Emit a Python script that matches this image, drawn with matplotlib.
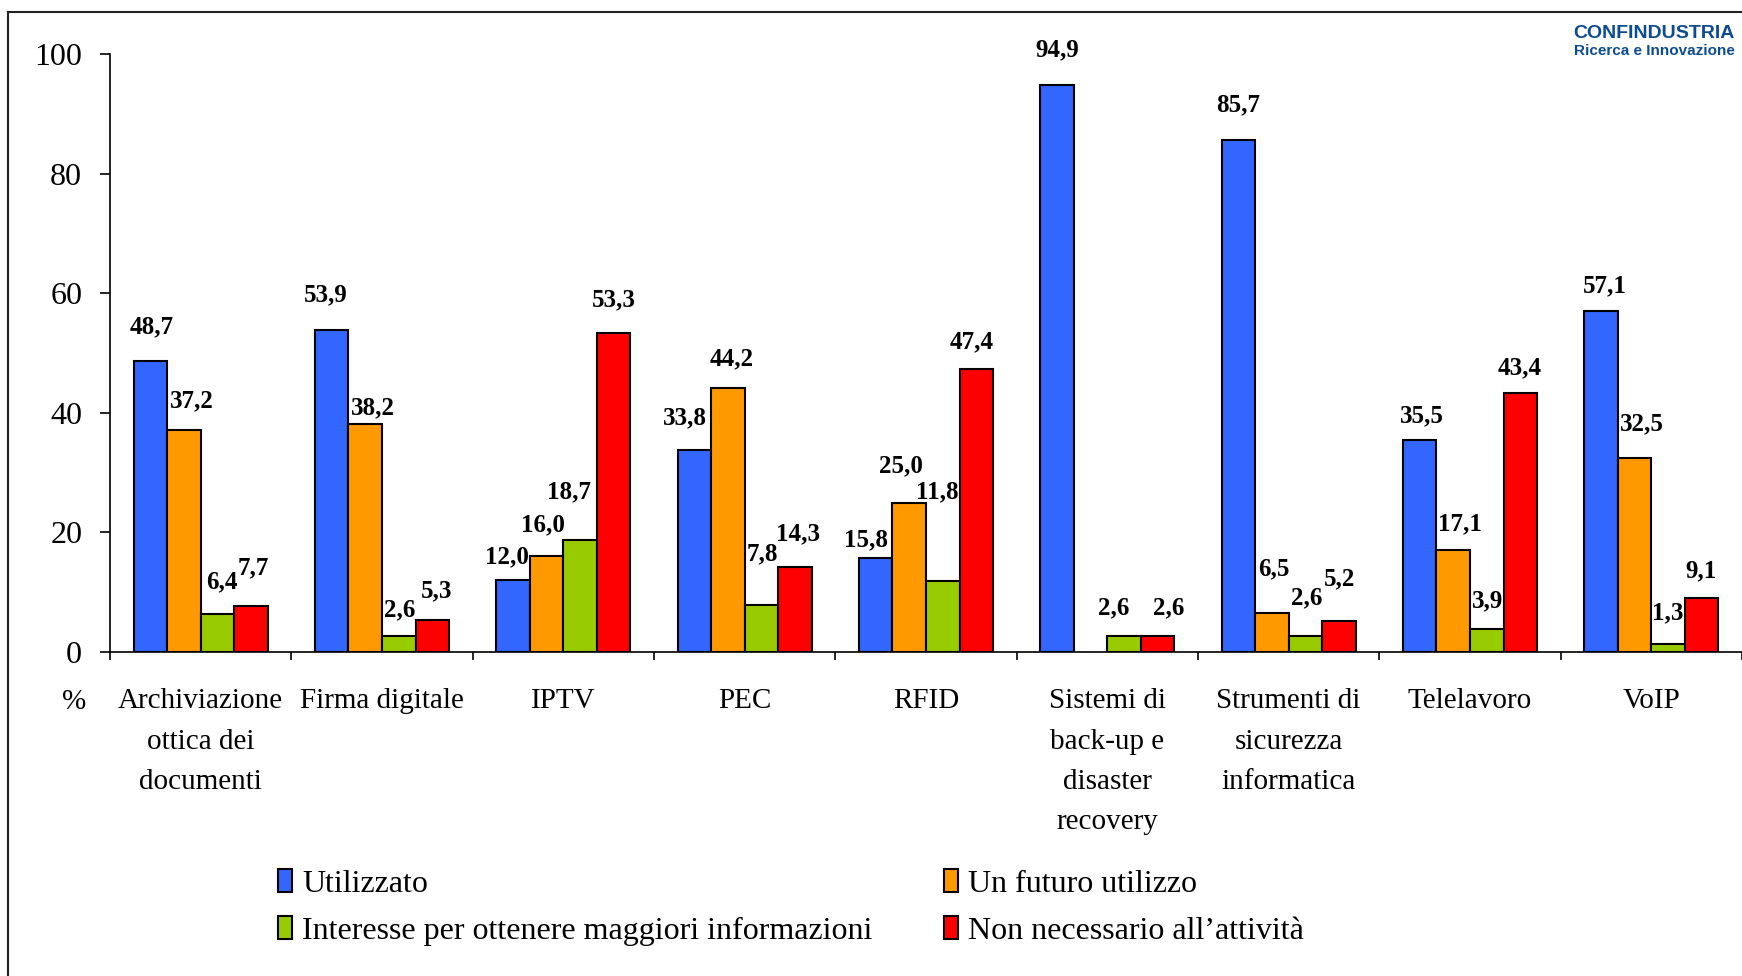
import numpy as np
import matplotlib
matplotlib.use("Agg")
import matplotlib.pyplot as plt
from matplotlib.lines import Line2D
from matplotlib.patches import Patch

categories = ["Archiviazione\nottica dei\ndocumenti", "Firma digitale", "IPTV", "PEC", "RFID",
              "Sistemi di\nback-up e\ndisaster\nrecovery", "Strumenti di\nsicurezza\ninformatica",
              "Telelavoro", "VoIP"]
series = ["Utilizzato", "Un futuro utilizzo",
          "Interesse per ottenere maggiori informazioni", "Non necessario all\u2019attivit\u00e0"]
utilizzato = [48.7, 53.9, 12.0, 33.8, 15.8, 94.9, 85.7, 35.5, 57.1]
futuro = [37.2, 38.2, 16.0, 44.2, 25.0, np.nan, 6.5, 17.1, 32.5]
interesse = [6.4, 2.6, 18.7, 7.8, 11.8, 2.6, 2.6, 3.9, 1.3]
non_necessario = [7.7, 5.3, 53.3, 14.3, 47.4, 2.6, 5.2, 43.4, 9.1]
yticks = [0, 20, 40, 60, 80, 100]

colors = ["#3366FF", "#FF9900", "#99CC00", "#FF0000"]
values = [utilizzato, futuro, interesse, non_necessario]

# value label placement (pixels): sideways nudge and height above the bar top
label_dx = [
    [1, -5.5, -5.7, -9.7, -9.7, 0, 0, 2, 4],
    [7.8, 8, -4, 3.7, -8.7, 0, 2.3, 7.2, 7],
    [4.4, 0.7, -10.7, 0.7, -5, -10, 1.5, 0.6, 0],
    [2.2, 4, 0, 3.3, -4.7, 10.6, 0.8, -1, -1],
]
label_up = [
    [35.5, 36.6, 25, 34, 19.4, 36.6, 36.6, 25.7, 26.7],
    [30, 17.6, 32.7, 31, 38.3, 0, 45.7, 27.3, 35.7],
    [33, 27.7, 50, 52.7, 91.6, 30.6, 40.6, 29, 33.3],
    [40, 30.7, 35.5, 34.7, 28.6, 30.6, 44, 26, 28.4],
]

plt.rcParams['font.family'] = ['Liberation Serif', 'DejaVu Serif']

fig = plt.figure(figsize=(17.42, 9.76), dpi=100)
ax = fig.add_axes([110/1742, 324/976, 1 - 110/1742, (652 - 54.4)/976])

n = len(categories)
centers = np.arange(n) + 0.5
w = 0.185
px2pt = 72 / 100
for k, (vals, col) in enumerate(zip(values, colors)):
    xs = centers + (k - 1.5) * w
    ax.bar(xs, vals, width=w, color=col, edgecolor="black", linewidth=1.5, zorder=3)
    for x, v, dx, up in zip(xs, vals, label_dx[k], label_up[k]):
        if np.isnan(v):
            continue
        ax.annotate(f"{v:.1f}".replace(".", ","), (x, v),
                    xytext=(dx * px2pt, (up - 1.5) * px2pt),
                    textcoords="offset points", ha="center", va="center",
                    fontsize=18, fontweight="bold", annotation_clip=False)

ax.set_xlim(0, n)
ax.set_ylim(0, 100)
ax.set_yticks(yticks)
ax.tick_params(axis="y", labelsize=23, length=7, width=1.2, pad=13, direction="out")
ax.set_xticks(centers)
ax.set_xticklabels(categories, fontsize=21, linespacing=1.72)
ax.tick_params(axis="x", which="major", length=0, pad=26)
ax.set_xticks(np.arange(n + 1), minor=True)
ax.tick_params(axis="x", which="minor", length=6, width=1.2, direction="out")
for s in ["top", "right"]:
    ax.spines[s].set_visible(False)
for s in ["left", "bottom"]:
    ax.spines[s].set_linewidth(1.2)

fig.text(74/1742, 1 - 702/976, "%", fontsize=21, ha="center", va="center")

# legend, one entry at a time
legend_pos = [(278, 884), (944, 884), (278, 931), (944, 931)]
for name, col, (px, py) in zip(series, colors, legend_pos):
    fig.legend(handles=[Patch(facecolor=col, edgecolor="black", linewidth=1.5)],
               labels=[name], loc="center left",
               bbox_to_anchor=(px/1742, 1 - py/976), frameon=False, fontsize=23,
               handlelength=0.45, handleheight=0.7, handletextpad=0.3,
               borderpad=0, borderaxespad=0)

# logo
fig.text(1735/1742, 1 - 34/976, "CONFINDUSTRIA", fontsize=14, fontweight="bold",
         color="#0D4C92", ha="right", va="center", family="Liberation Sans")
fig.text(1735/1742, 1 - 51/976, "Ricerca e Innovazione", fontsize=11, fontweight="bold",
         color="#0D4C92", ha="right", va="center", family="Liberation Sans")

# frame lines
fig.add_artist(Line2D([8/1742, 1], [1 - 12/976, 1 - 12/976], color="#222222", lw=1.5))
fig.add_artist(Line2D([8/1742, 8/1742], [0, 1 - 12/976], color="#222222", lw=1.5))

fig.savefig("out.png", dpi=100)
